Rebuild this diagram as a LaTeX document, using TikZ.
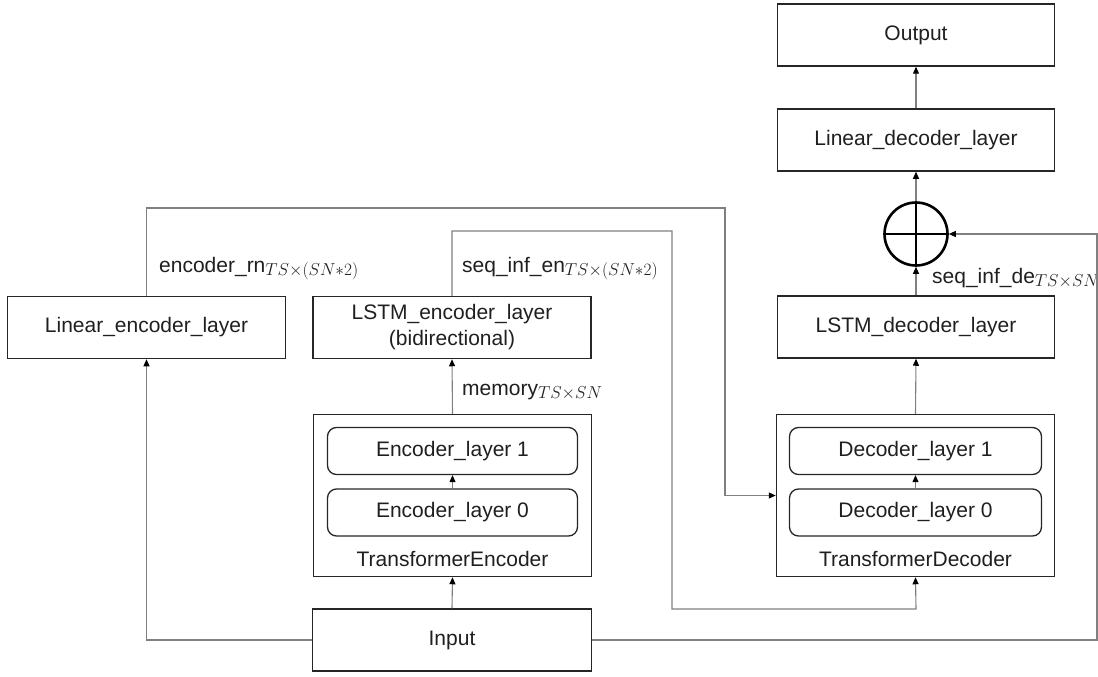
\documentclass[tikz,border=0pt]{standalone}
\usepackage{fontspec}
\setmainfont{Liberation Sans}
\usetikzlibrary{arrows.meta}
\definecolor{linegray}{HTML}{808080}
\definecolor{boxline}{HTML}{262626}
\newcommand\dimsub[1]{\raisebox{-3.5pt}{\fontsize{16.5}{17}\selectfont$#1$}}
\begin{document}
\begin{tikzpicture}[x=1pt,y=-1pt,
  every node/.style={font=\fontsize{21}{25}\selectfont, text=black!88, inner sep=0pt},
  box/.style={draw=boxline, line width=1.5pt, minimum width=277pt, minimum height=62pt, align=center},
  layerbox/.style={draw=boxline, line width=1.3pt, rounded corners=9pt, minimum width=250pt, minimum height=47pt},
  conn/.style={draw=linegray, line width=1.1pt, -{Triangle[length=7pt,width=6pt,black]}},
  lbl/.style={anchor=base west}]
\useasboundingbox (0,0) rectangle (1098,677);

% right column
\node[box] (out) at (916,35) {Output};
\node[box] (lindec) at (916,140) {Linear\_decoder\_layer};
\node[draw=black, line width=2.6pt, circle, minimum size=63pt] (circ) at (916,234) {};
\draw[line width=2.6pt] (circ.north) -- (circ.south) (circ.west) -- (circ.east);
\node[box] (lstmdec) at (916,327) {LSTM\_decoder\_layer};
\node[box, minimum width=278pt, minimum height=162pt] (tdec) at (915.5,495.5) {};
\node[layerbox, minimum width=252pt] (dl1) at (915.5,451) {Decoder\_layer 1};
\node[layerbox, minimum width=252pt] (dl0) at (915.5,512.5) {Decoder\_layer 0};
\node (tdeclbl) at (915.5,559) {TransformerDecoder};

% left columns
\node[box, minimum width=278pt] (linenc) at (146.5,327.5) {Linear\_encoder\_layer};
\node[box, minimum width=278pt, font=\fontsize{21}{26}\selectfont] (lstmenc) at (452,327.5) {LSTM\_encoder\_layer\\(bidirectional)};
\node[box, minimum width=278pt, minimum height=162pt] (tenc) at (452.5,495.5) {};
\node[layerbox] (el1) at (452.5,451) {Encoder\_layer 1};
\node[layerbox] (el0) at (452.5,512.5) {Encoder\_layer 0};
\node (tenclbl) at (452.5,559) {TransformerEncoder};
\node[box, minimum width=279pt] (input) at (452,640) {Input};

% labels
\node[lbl] (lrn) at (159,272) {encoder\_rn\dimsub{TS{\times}(SN{*}2)}};
\node[lbl] (lsen) at (462,272) {seq\_inf\_en\dimsub{TS{\times}(SN{*}2)}};
\node[lbl] (lmem) at (462,395) {memory\dimsub{TS{\times}SN}};
\node[lbl] (lsde) at (932,283) {seq\_inf\_de\dimsub{TS{\times}SN}};

% bend points
\coordinate (b1) at (725,208);
\coordinate (b2) at (672,231);
\coordinate (b3) at (916,609);
\coordinate (b4) at (1097,234);

% connectors
\draw[conn] (input.north) -- (tenc.south);
\draw[conn] (el0.north) -- (el1.south);
\draw[conn] (tenc.north) -- (lstmenc.south);
\draw[conn] (input.west) -| (linenc.south);
\draw[conn] (linenc.north) |- (b1) |- (tdec.west);
\draw[conn] (lstmenc.north) |- (b2) |- (b3) -- (tdec.south);
\draw[conn] (input.east) -| (b4) -- (circ.east);
\draw[conn] (dl0.north) -- (dl1.south);
\draw[conn] (tdec.north) -- (lstmdec.south);
\draw[conn] (lstmdec.north) -- (circ.south);
\draw[conn] (circ.north) -- (lindec.south);
\draw[conn] (lindec.north) -- (out.south);
\end{tikzpicture}
\end{document}
